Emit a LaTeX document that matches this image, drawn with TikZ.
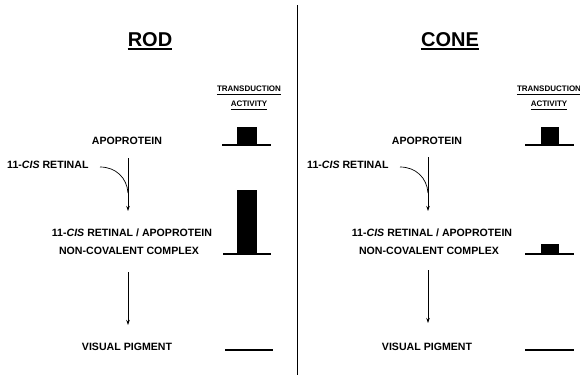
\documentclass[tikz,border=0pt]{standalone}
\usepackage{fontspec}
\setmainfont{Liberation Sans}
\usetikzlibrary{arrows.meta}
\begin{document}
\begin{tikzpicture}[x=1pt,y=-1pt,
  lbl/.style={font=\fontsize{10.6}{12}\selectfont\bfseries, inner sep=0pt},
  ttl/.style={font=\fontsize{20}{24}\selectfont\bfseries, inner sep=0pt},
  hdr/.style={font=\fontsize{8}{9}\selectfont\bfseries, inner sep=0pt},
  arr/.style={line width=0.7pt, -{Stealth[length=5pt,width=3.5pt]}},
  thin/.style={line width=0.7pt},
  base/.style={line width=1.4pt},
  uline/.style={line width=0.6pt},
  tline/.style={line width=1.6pt}]
\clip (0,0) rectangle (580,375);
% divider
\coordinate (d1) at (297,5);
\coordinate (d2) at (297,375);
\draw[line width=0.8pt] (d1) -- (d2);
% ---------- titles
\node[ttl] (rod) at (150,39.5) {ROD};
\node[ttl] (cone) at (450,39.5) {CONE};
\draw[tline] ([yshift=-2.5pt]rod.south west) -- ([yshift=-2.5pt]rod.south east);
\draw[tline] ([yshift=-2.5pt]cone.south west) -- ([yshift=-2.5pt]cone.south east);
% ---------- headers
\foreach \n/\x in {r/249,c/549}{
  \node[hdr] (tr\n) at (\x,89) {TRANSDUCTION};
  \node[hdr] (ac\n) at (\x,104) {ACTIVITY};
  \draw[uline] ([yshift=-1.8pt]tr\n.south west) -- ([yshift=-1.8pt]tr\n.south east);
  \draw[uline] ([yshift=-1.8pt]ac\n.south west) -- ([yshift=-1.8pt]ac\n.south east);
}
% ---------- rod column
\node[lbl] (apor) at (127,141) {APOPROTEIN};
\node[lbl, anchor=west] (retr) at (7,165) {11-\textit{CIS} RETINAL};
\node[lbl] (cx1r) at (132,233) {11-\textit{CIS} RETINAL / APOPROTEIN};
\node[lbl] (cx2r) at (129,251) {NON-COVALENT COMPLEX};
\node[lbl] (visr) at (127,347) {VISUAL PIGMENT};
\coordinate (r1) at (128,158);
\coordinate (r2) at (128,211);
\coordinate (rc0) at (100,167);
\coordinate (rc1) at (128,193);
\coordinate (r3) at (128,272);
\coordinate (r4) at (128,325);
\draw[arr] (r1) -- (r2);
\draw[thin] (rc0) .. controls (116,167) and (127,178) .. (rc1);
\draw[arr] (r3) -- (r4);
% rod bars
\fill (237,127) rectangle (257,145);
\draw[base] (222,145) -- (271,145);
\fill (237,190) rectangle (257,254);
\draw[base] (223,254) -- (271,254);
\draw[base] (225,350) -- (273,350);
% ---------- cone column
\node[lbl] (apoc) at (427,141) {APOPROTEIN};
\node[lbl, anchor=west] (retc) at (307,165) {11-\textit{CIS} RETINAL};
\node[lbl] (cx1c) at (432,233) {11-\textit{CIS} RETINAL / APOPROTEIN};
\node[lbl] (cx2c) at (429,251) {NON-COVALENT COMPLEX};
\node[lbl] (visc) at (427,347) {VISUAL PIGMENT};
\coordinate (c1) at (428,157);
\coordinate (c2) at (428,211);
\coordinate (cc0) at (400,167);
\coordinate (cc1) at (428,193);
\coordinate (c3) at (428,270);
\coordinate (c4) at (428,323);
\draw[arr] (c1) -- (c2);
\draw[thin] (cc0) .. controls (416,167) and (427,178) .. (cc1);
\draw[arr] (c3) -- (c4);
% cone bars
\fill (541,127) rectangle (559,145);
\draw[base] (525,145) -- (574,145);
\fill (541,244) rectangle (559,254);
\draw[base] (525,254) -- (574,254);
\draw[base] (525,350) -- (574,350);
\end{tikzpicture}
\end{document}
